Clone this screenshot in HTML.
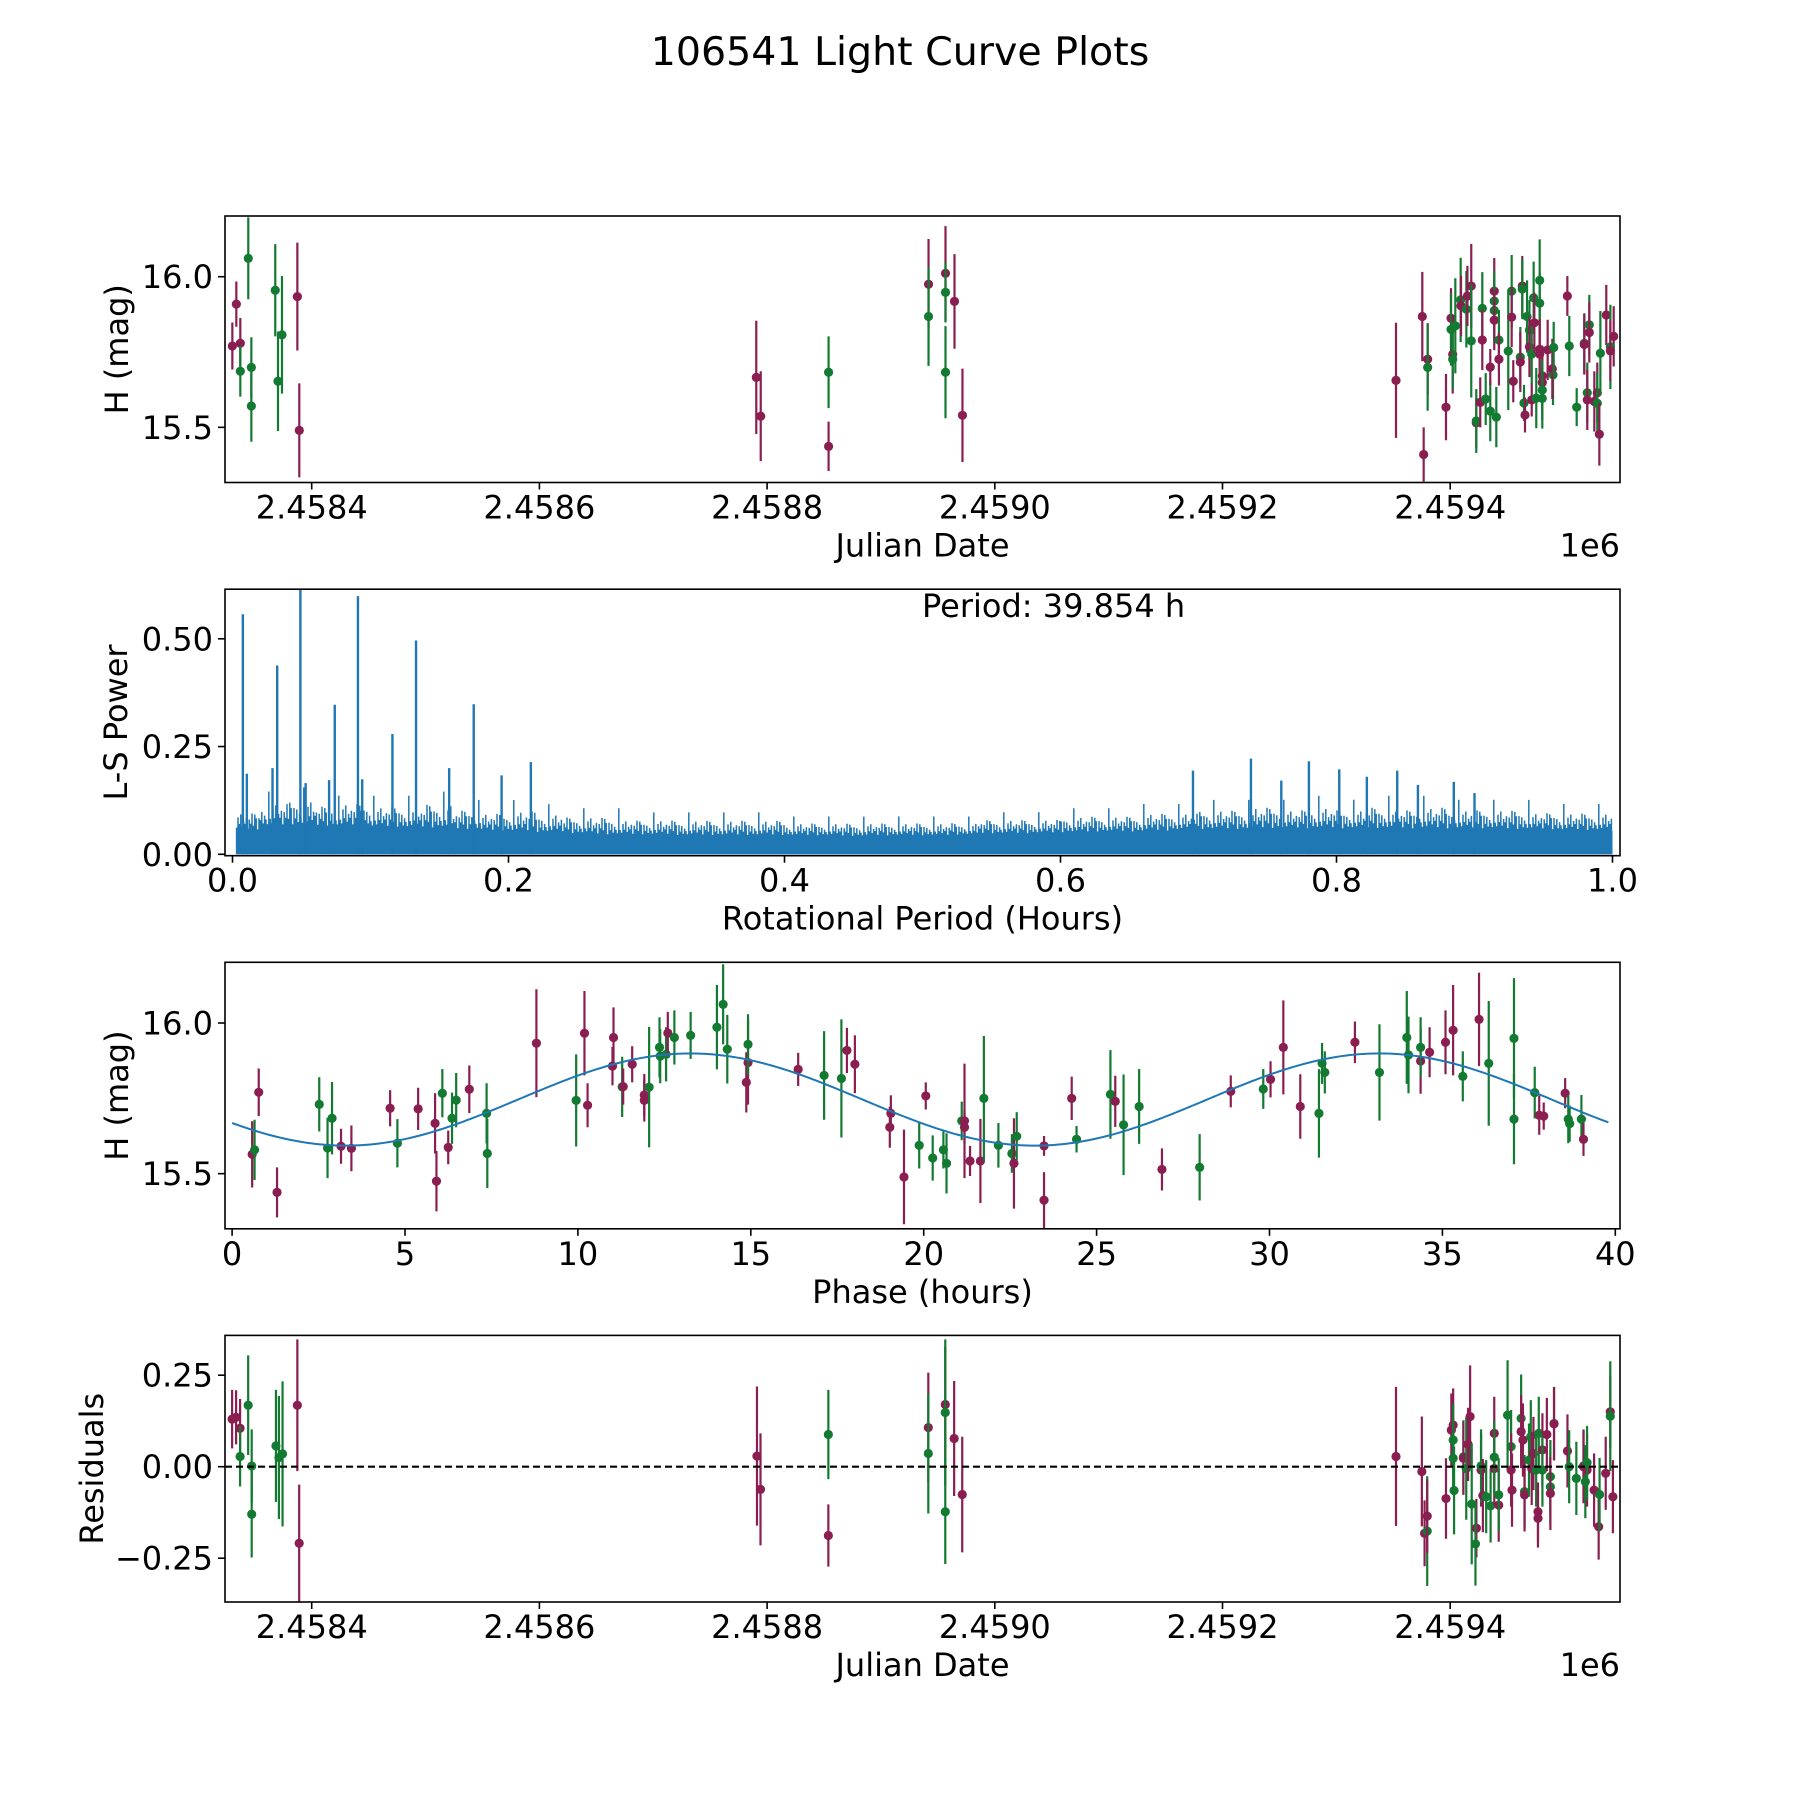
<!DOCTYPE html>
<html>
<head>
<meta charset="utf-8">
<style>
  html,body{margin:0;padding:0;background:#fff;}
  svg{display:block;}
  text{font-family:"DejaVu Sans","Liberation Sans",sans-serif;fill:#000;}
</style>
</head>
<body>
<svg id="fig" width="1800" height="1800" viewBox="0 0 1800 1800" xmlns="http://www.w3.org/2000/svg">
  <rect x="0" y="0" width="1800" height="1800" fill="#fff"/>
  <text x="900" y="65" font-size="39.5" text-anchor="middle">106541 Light Curve Plots</text>
  <g id="p1"></g>
  <g id="p2"></g>
  <g id="p3"></g>
  <g id="p4"></g>
</svg>
<script>
// ---------- Panel 1 data: days since JD 2458400, magnitude, error, band ----------
const lcDays = [-69.7,-66.2,-62.7,-62.7,-55.7,-53.0,-53.0,-32.0,-29.6,-26.1,-12.6,-10.9,
 390.5,394.4,454.0,454.0,541.8,541.8,556.7,556.7,556.7,564.6,571.6,
 952.4,975.5,980.2,980.2,976.7,996.3,1000.7,1000.7,1002.2,1002.2,1004.5,1009.2,1009.5,1014.2,1015.1,1018.5,1018.5,
 1022.9,1022.9,1026.4,1031.2,1028.2,1028.2,1035.2,1035.2,1038.7,1038.7,1038.7,1038.7,1040.5,1042.8,1042.8,
 1051.0,1054.0,1054.0,1055.4,1061.6,1061.6,1064.8,1065.7,1063.3,1063.3,1067.5,1069.6,1069.6,1071.6,1071.6,
 1073.3,1073.9,1075.6,1078.6,1078.6,1078.6,1078.6,1080.9,1080.9,1080.9,1080.9,1085.6,1090.3,1089.7,1090.9,
 1102.9,1104.6,1111.1,1117.8,1117.8,1120.4,1120.4,1122.2,1122.2,1126.6,1129.2,1129.2,1131.0,1131.9,1137.1,1143.6,1140.7,1140.7];
const lcMag = [15.770,15.909,15.779,15.686,16.061,15.699,15.571,15.955,15.653,15.807,15.934,15.490,
 15.666,15.537,15.683,15.437,15.975,15.868,16.011,15.948,15.683,15.918,15.540,
 15.656,15.868,15.726,15.699,15.410,15.567,15.862,15.825,15.742,15.726,15.837,15.923,15.903,15.892,15.936,15.969,15.787,
 15.515,15.521,15.583,15.594,15.895,15.790,15.554,15.700,15.952,15.919,15.888,15.856,15.534,15.790,15.726,
 15.753,15.952,15.866,15.653,15.733,15.717,15.581,15.541,15.969,15.959,15.868,15.823,15.767,15.743,15.591,
 15.930,15.847,15.597,15.988,15.912,15.759,15.743,15.671,15.649,15.624,15.596,15.757,15.674,15.694,15.765,
 15.936,15.770,15.567,15.779,15.775,15.615,15.591,15.840,15.815,15.586,15.615,15.580,15.477,15.746,15.873,15.802,15.767,15.754];
const lcErr = [0.078,0.075,0.084,0.084,0.136,0.1,0.119,0.153,0.165,0.195,0.179,0.156,
 0.188,0.149,0.119,0.082,0.15,0.164,0.157,0.1,0.153,0.157,0.155,
 0.191,0.148,0.12,0.144,0.09,0.11,0.1,0.12,0.13,0.1,0.158,0.14,0.1,0.127,0.1,0.14,0.188,
 0.083,0.106,0.083,0.086,0.12,0.1,0.1,0.06,0.11,0.1,0.1,0.1,0.1,0.1,0.087,
 0.196,0.12,0.1,0.07,0.1,0.1,0.06,0.058,0.1,0.1,0.12,0.1,0.1,0.1,0.055,
 0.12,0.1,0.1,0.136,0.1,0.1,0.1,0.1,0.1,0.1,0.1,0.1,0.1,0.1,0.085,
 0.066,0.1,0.063,0.1,0.1,0.1,0.1,0.1,0.1,0.1,0.1,0.1,0.104,0.14,0.1,0.1,0.14,0.1];
const lcBand = "mmmgggggggmm" + "mmgmmgmggmm" + "mmmgmmmgmgggmgmmg" + "mgmggmgmmggmggm" + "ggmmgmgmmgggmgm" + "gmgggmmmmggmgmg" + "mgggmgmgmmmgmgmmgm";

// ---------- Panel 2 data: Lomb-Scargle periodogram ----------
const lsBinStart = [0,0.02,0.04,0.06,0.08,0.10,0.12,0.14,0.16,0.18,0.20,0.22,0.24,0.26,0.28,0.30,0.32,0.34,0.36,0.38,
 0.40,0.42,0.44,0.46,0.48,0.50,0.52,0.54,0.56,0.58,0.60,0.62,0.64,0.66,0.68,0.70,0.72,0.74,0.76,0.78,
 0.80,0.82,0.84,0.86,0.88,0.90,0.92,0.94,0.96,0.98];
const lsEnvTop = [0.12,0.15,0.16,0.14,0.15,0.14,0.14,0.15,0.13,0.12,0.13,0.12,0.11,0.11,0.10,0.10,0.10,0.10,0.10,0.10,
 0.09,0.09,0.09,0.09,0.09,0.09,0.09,0.10,0.10,0.10,0.11,0.11,0.11,0.12,0.12,0.13,0.13,0.14,0.13,0.14,
 0.13,0.14,0.13,0.14,0.13,0.13,0.13,0.12,0.12,0.12];
const lsEnvFill = [0.065,0.075,0.078,0.075,0.075,0.072,0.07,0.07,0.066,0.062,0.06,0.058,0.055,0.052,0.052,0.052,0.05,0.05,0.05,0.05,
 0.05,0.05,0.048,0.05,0.05,0.05,0.052,0.055,0.055,0.056,0.058,0.06,0.06,0.062,0.064,0.066,0.066,0.068,0.068,0.068,
 0.068,0.068,0.068,0.068,0.068,0.068,0.066,0.066,0.064,0.064];
const lsSpikePeriod = [0.0075,0.0104,0.029,0.0324,0.0492,0.053,0.07,0.0741,0.0909,0.094,0.1159,0.133,0.157,0.1748,0.195,0.2162,
 0.696,0.738,0.760,0.780,0.802,0.822,0.844,0.859,0.885,0.900];
const lsSpikePower = [0.557,0.187,0.20,0.438,0.618,0.165,0.172,0.347,0.599,0.174,0.279,0.496,0.20,0.348,0.183,0.214,
 0.194,0.222,0.171,0.216,0.197,0.18,0.194,0.161,0.168,0.142];
const lsTicks = [0.0,0.2,0.4,0.6,0.8,1.0];
const lsYTicks = [0.00,0.25,0.50];

// ---------- Panel 3 data: phase (hours), magnitude, error, band ----------
const phHours = [0.58,0.65,0.77,1.30,2.52,2.76,2.89,3.15,3.45,4.57,4.78,5.38,5.87,5.91,6.08,6.25,6.36,6.48,6.86,7.36,7.38,
 8.80,9.95,10.19,10.28,11.0,11.03,11.28,11.31,11.57,11.92,11.92,12.06,12.36,12.38,12.55,12.6,12.79,13.26,14.02,14.2,14.32,
 14.87,14.92,14.92,16.37,17.12,17.62,17.78,18.01,19.02,19.05,19.43,19.87,
 20.06,20.26,20.57,20.66,21.1,21.18,21.18,21.34,21.64,21.74,22.16,22.55,22.61,22.69,23.48,23.48,24.42,24.28,
 25.4,25.54,25.78,26.23,26.89,27.98,28.88,29.82,30.03,30.4,30.89,31.43,31.52,31.6,32.47,33.18,33.97,34.02,34.37,34.37,
 34.63,35.09,35.31,35.59,36.06,36.34,37.07,37.07,37.67,37.8,37.93,38.55,38.64,38.68,39.02,39.08];
const phMag = [15.564,15.579,15.770,15.438,15.730,15.585,15.684,15.591,15.584,15.717,15.601,15.715,15.667,15.475,15.767,15.587,15.684,15.744,15.780,15.700,15.567,
 15.933,15.743,15.966,15.727,15.857,15.952,15.788,15.789,15.863,15.761,15.743,15.787,15.919,15.890,15.896,15.967,15.952,15.959,15.986,16.062,15.913,
 15.803,15.869,15.929,15.846,15.826,15.816,15.909,15.863,15.654,15.700,15.489,15.594,
 15.758,15.552,15.579,15.534,15.675,15.675,15.654,15.542,15.542,15.750,15.594,15.567,15.534,15.624,15.592,15.412,15.614,15.750,
 15.763,15.740,15.662,15.723,15.514,15.521,15.773,15.781,15.813,15.919,15.723,15.700,15.866,15.836,15.936,15.836,15.952,15.894,15.874,15.919,
 15.903,15.936,15.976,15.823,16.012,15.866,15.949,15.681,15.769,15.694,15.691,15.767,15.681,15.666,15.681,15.614];
const phErr = [0.11,0.1,0.079,0.083,0.09,0.1,0.12,0.058,0.076,0.06,0.08,0.07,0.1,0.1,0.08,0.056,0.085,0.09,0.079,0.1,0.115,
 0.179,0.153,0.14,0.073,0.064,0.1,0.1,0.06,0.06,0.07,0.07,0.2,0.1,0.09,0.09,0.07,0.09,0.078,0.14,0.133,0.114,
 0.1,0.14,0.1,0.055,0.147,0.196,0.075,0.096,0.068,0.06,0.157,0.077,
 0.045,0.075,0.062,0.1,0.064,0.19,0.055,0.05,0.14,0.207,0.074,0.064,0.15,0.08,0.033,0.093,0.044,0.072,
 0.147,0.085,0.167,0.124,0.07,0.11,0.053,0.066,0.06,0.156,0.107,0.147,0.068,0.07,0.069,0.16,0.154,0.127,0.109,0.1,
 0.083,0.106,0.15,0.083,0.155,0.207,0.2,0.15,0.086,0.065,0.045,0.05,0.08,0.06,0.08,0.055];
const phBand = "mgmmgggmmmgmmmgmggmgg" + "mgmmmmgmmmmggggmggggg" + "mmgmggmmmmmg" + "mggggmmmmgggmgmmgm" + "gmggmgmgmmmgggmgggmg" + "mmmgmggggmmmgggm";
// fitted sinusoid model: mean, amplitude, phase of maximum, folding period (h)
const modelMean = [15.746];
const modelAmp = [0.153];
const modelPeak = [13.25];
const modelPeriod = [39.854];
const phTicks = [0,5,10,15,20,25,30,35,40];

// ---------- Panel 4 data: residuals ----------
const resDays = [-69.9,-66.4,-62.9,-62.9,-55.8,-52.7,-52.7,-31.4,-28.8,-25.6,-12.6,-11.0,
 391.1,394.2,453.8,453.8,541.6,541.6,556.5,556.5,556.5,564.3,571.4,
 952.4,975.1,977.5,979.8,979.8,996.3,1001.0,1002.6,1002.6,1003.4,1002.6,1011.6,1011.6,1014.1,1015.7,1017.5,1018.9,
 1023.0,1022.2,1027.1,1027.1,1028.7,1031.6,1035.5,1038.7,1038.7,1038.7,1042.6,1042.6,1050.4,1053.5,1054.3,1053.5,
 1062.3,1062.3,1063.9,1065.3,1065.3,1069.2,1070.8,1071.6,1073.1,1075.5,1077.1,1077.1,1077.8,1081.0,1081.0,1084.9,
 1088.0,1088.0,1088.0,1091.2,1091.2,1103.0,1104.5,1110.8,1117.1,1117.1,1118.7,1120.2,1120.2,1126.4,1130.4,1131.2,
 1136.6,1140.6,1140.6,1142.9];
const resVal = [0.130,0.135,0.105,0.028,0.168,0.002,-0.130,0.057,0.025,0.035,0.168,-0.209,
 0.029,-0.062,0.088,-0.188,0.107,0.036,0.170,0.148,-0.123,0.077,-0.076,
 0.028,-0.013,-0.182,-0.176,-0.135,-0.087,0.100,0.114,0.073,-0.065,0.023,0.027,0.023,-0.005,0.061,0.137,-0.102,
 -0.168,-0.211,-0.009,0.002,-0.079,-0.082,-0.107,0.091,-0.005,0.026,-0.105,-0.077,0.141,0.055,-0.064,-0.009,
 0.132,0.096,0.073,-0.068,-0.077,0.018,0.082,-0.005,0.036,-0.009,-0.123,-0.141,0.091,0.046,-0.009,0.088,
 -0.027,-0.055,-0.073,0.118,0.117,0.043,0.0,-0.032,0.002,0.0,-0.041,-0.009,0.011,-0.064,-0.164,-0.076,
 -0.018,0.150,0.138,-0.082];
const resErr = [0.08,0.074,0.08,0.082,0.136,0.1,0.118,0.153,0.168,0.198,0.18,0.16,
 0.19,0.153,0.122,0.085,0.15,0.164,0.157,0.2,0.143,0.157,0.158,
 0.19,0.15,0.09,0.15,0.1,0.11,0.1,0.1,0.1,0.12,0.1,0.1,0.1,0.14,0.1,0.14,0.165,
 0.08,0.114,0.1,0.1,0.1,0.1,0.1,0.1,0.1,0.1,0.1,0.1,0.15,0.1,0.1,0.1,
 0.12,0.1,0.1,0.1,0.1,0.1,0.1,0.1,0.1,0.1,0.08,0.08,0.1,0.1,0.1,0.1,
 0.1,0.1,0.1,0.1,0.1,0.1,0.1,0.1,0.1,0.1,0.1,0.1,0.1,0.1,0.09,0.1,
 0.1,0.1,0.15,0.1];
const resBand = "mmmgggggggmm" + "mmgmmgmggmm" + "mmmgmmmmggggmgmmg" + "mgmgmggmmgmgggmm" + "gmmgmggmmgmmgmgm" + "ggmgmmgggmgmgmmg" + "mmgm";

const jdTicks = [0,200,400,600,800,1000];
const jdTickLabels = ["2.4584","2.4586","2.4588","2.4590","2.4592","2.4594"];
const magTicks = [16.0,15.5];
const resTicks = [0.25,0,-0.25];

// ---------- layout ----------
const NS = "http://www.w3.org/2000/svg";
const L = 225, R = 1620;
const panels = [{top:216,bot:482.5},{top:589.2,bot:855.7},{top:962.3,bot:1228.8},{top:1335.4,bot:1602}];
const COL = {m:"#8b1e51", g:"#137a31"};
const FS = 32;

function el(tag, attrs, parent){
  const e = document.createElementNS(NS, tag);
  for (const k in attrs) e.setAttribute(k, attrs[k]);
  parent.appendChild(e);
  return e;
}
function txt(s, attrs, parent){
  const t = el("text", attrs, parent); t.textContent = s; return t;
}

const xJD = d => 311.7 + d * 1.1385;
const yMag = (top) => (m => top + 60.7 + (16.0 - m) * 301.3);
const xPer = p => 232.5 + p * 1380;
const yPow = p => 854.3 - p * 431;
const xPh = h => 232.1 + h * 34.58;
const yRes = r => 1466.7 - r * 366;

function frame(g, pn, name){
  const r = el("rect", {x:L, y:pn.top, width:R-L, height:pn.bot-pn.top, fill:"none", stroke:"#000", "stroke-width":1.6}, g);
  
  
}
function xtick(g, x, pn, label, name){
  const gg = el("g", {}, g);
  
  
  el("line", {x1:x, x2:x, y1:pn.bot, y2:pn.bot+7, stroke:"#000", "stroke-width":1.6}, gg);
  txt(label, {x:x, y:pn.bot+36, "font-size":FS, "text-anchor":"middle"}, gg);
}
function ytick(g, y, label, name){
  const gg = el("g", {}, g);
  
  
  el("line", {x1:L-7, x2:L, y1:y, y2:y, stroke:"#000", "stroke-width":1.6}, gg);
  txt(label, {x:L-12, y:y+11.5, "font-size":FS, "text-anchor":"end"}, gg);
}
function ylabel(g, s, cx, pn, name){
  const cy = (pn.top + pn.bot) / 2;
  const t = txt(s, {x:cx, y:cy, "font-size":FS, "text-anchor":"middle", "dominant-baseline":"central", transform:`rotate(-90 ${cx} ${cy})`}, g);
  
  
}
function xlabel(g, s, pn, name){
  const t = txt(s, {x:(L+R)/2, y:pn.bot+74, "font-size":FS, "text-anchor":"middle"}, g);
  
  
}
function offsetText(g, pn){
  const t = txt("1e6", {x:R, y:pn.bot+74, "font-size":FS, "text-anchor":"end"}, g);
  
  
}
function errPoints(g, xs, ys, es, bands, fx, fy, pn, name){
  const clipId = "clip" + name;
  const cp = el("clipPath", {id:clipId}, g);
  el("rect", {x:L, y:pn.top, width:R-L, height:pn.bot-pn.top}, cp);
  const gg = el("g", {"clip-path":`url(#${clipId})`}, g);
  
  
  for (let i = 0; i < xs.length; i++){
    const c = COL[bands[i]] || COL.m;
    const x = fx(xs[i]);
    const pt = el("g", {}, gg);
    
    
    el("line", {x1:x, x2:x, y1:fy(ys[i]+es[i]), y2:fy(ys[i]-es[i]), stroke:c, "stroke-width":2.2}, pt);
    el("circle", {cx:x, cy:fy(ys[i]), r:4.6, fill:c}, pt);
  }
}

// ---------- Panel 1 ----------
(function(){
  const g = document.getElementById("p1"), pn = panels[0], fy = yMag(pn.top);
  errPoints(g, lcDays, lcMag, lcErr, lcBand, xJD, fy, pn, "lc");
  frame(g, pn, "light-curve-axes");
  jdTicks.forEach((d,i) => xtick(g, xJD(d), pn, jdTickLabels[i], "x-tick"));
  magTicks.forEach(m => ytick(g, fy(m), m.toFixed(1), "y-tick"));
  ylabel(g, "H (mag)", 117, pn, "y-axis-title");
  xlabel(g, "Julian Date", pn, "x-axis-title");
  offsetText(g, pn);
})();

// ---------- Panel 2 ----------
(function(){
  const g = document.getElementById("p2"), pn = panels[1];
  const blue = "#1f77b4";
  const cp = el("clipPath", {id:"clipls"}, g);
  el("rect", {x:L, y:pn.top, width:R-L, height:pn.bot-pn.top}, cp);
  const gg = el("g", {"clip-path":"url(#clipls)"}, g);
  
  
  let d = `M${xPer(0.003)},${yPow(0)}`;
  for (let i = 0; i < lsBinStart.length; i++){
    const x0 = xPer(Math.max(lsBinStart[i],0.003)), x1 = xPer(lsBinStart[i] + 0.02);
    d += ` L${x0},${yPow(lsEnvFill[i]*0.85)} L${x1},${yPow(lsEnvFill[i]*0.85)}`;
  }
  d += ` L${xPer(1)},${yPow(0)} Z`;
  el("path", {d:d, fill:blue, stroke:"none"}, gg);
  // rendering texture between fill level and envelope top
  const tex = [0.2,0.55,0.35,0.9,0.15,0.6,0.4,0.75,0.1,0.5,0.3,1.0,0.25,0.65,0.45,0.05,0.8,0.35,0.55,0.2,0.7,0.4,0.15,0.95,0.3];
  let dp = "";
  let k = 0;
  for (let x = xPer(0.003); x <= xPer(1.0); x += 1.4, k++){
    const p = (x - 232.5) / 1380;
    const i = Math.min(lsBinStart.length - 1, Math.floor(p / 0.02));
    const t = tex[k % tex.length] * (0.4 + 0.6 * tex[(k * 7) % tex.length]);
    const h = lsEnvFill[i] * 0.85 + (lsEnvTop[i] - lsEnvFill[i] * 0.85) * t;
    dp += `M${x.toFixed(1)},${yPow(0)} L${x.toFixed(1)},${yPow(h).toFixed(1)} `;
  }
  el("path", {d:dp, stroke:blue, "stroke-width":1.5, fill:"none"}, gg);
  for (let i = 0; i < lsSpikePeriod.length; i++){
    const x = xPer(lsSpikePeriod[i]);
    const s = el("line", {x1:x, x2:x, y1:yPow(0), y2:yPow(lsSpikePower[i]), stroke:blue, "stroke-width":2.4}, gg);
    
    
  }
  frame(g, pn, "periodogram-axes");
  lsTicks.forEach(t => xtick(g, xPer(t), pn, t.toFixed(1), "x-tick"));
  lsYTicks.forEach(t => ytick(g, yPow(t), t.toFixed(2), "y-tick"));
  ylabel(g, "L-S Power", 116, pn, "y-axis-title");
  xlabel(g, "Rotational Period (Hours)", pn, "x-axis-title");
  const ann = txt("Period: 39.854 h", {x:922, y:pn.top + 28, "font-size":FS}, g);
  
  
})();

// ---------- Panel 3 ----------
(function(){
  const g = document.getElementById("p3"), pn = panels[2], fy = yMag(pn.top);
  errPoints(g, phHours, phMag, phErr, phBand, xPh, fy, pn, "phase");
  let d = "";
  const P = modelPeriod[0] / 2;
  for (let h = 0; h <= modelPeriod[0] + 0.001; h += 0.1){
    const m = modelMean[0] + modelAmp[0] * Math.cos(2 * Math.PI * (h - modelPeak[0]) / P);
    d += (d ? " L" : "M") + xPh(h).toFixed(2) + "," + fy(m).toFixed(2);
  }
  const fit = el("path", {d:d, stroke:"#1f77b4", "stroke-width":2, fill:"none"}, g);
  
  
  frame(g, pn, "phase-axes");
  phTicks.forEach(t => xtick(g, xPh(t), pn, String(t), "x-tick"));
  magTicks.forEach(m => ytick(g, fy(m), m.toFixed(1), "y-tick"));
  ylabel(g, "H (mag)", 117, pn, "y-axis-title");
  xlabel(g, "Phase (hours)", pn, "x-axis-title");
})();

// ---------- Panel 4 ----------
(function(){
  const g = document.getElementById("p4"), pn = panels[3];
  errPoints(g, resDays, resVal, resErr, resBand, xJD, yRes, pn, "res");
  const z = el("line", {x1:L, x2:R, y1:yRes(0), y2:yRes(0), stroke:"#000", "stroke-width":2.2, "stroke-dasharray":"7,4"}, g);
  
  
  frame(g, pn, "residuals-axes");
  jdTicks.forEach((d,i) => xtick(g, xJD(d), pn, jdTickLabels[i], "x-tick"));
  resTicks.forEach(t => ytick(g, yRes(t), (t < 0 ? "\u2212" : "") + Math.abs(t).toFixed(2), "y-tick"));
  ylabel(g, "Residuals", 92, pn, "y-axis-title");
  xlabel(g, "Julian Date", pn, "x-axis-title");
  offsetText(g, pn);
})();
</script>
</body>
</html>
